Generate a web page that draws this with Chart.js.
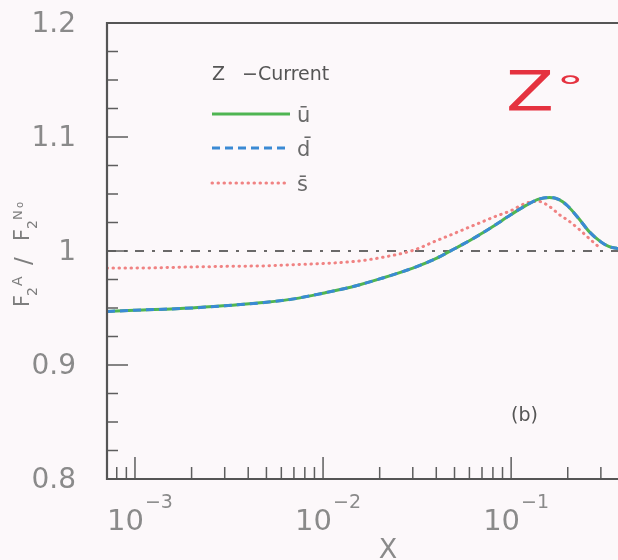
<!DOCTYPE html>
<html>
<head>
<meta charset="utf-8">
<script src="https://cdn.jsdelivr.net/npm/chart.js@4.4.0/dist/chart.umd.min.js"></script>
<style>
  html, body { margin: 0; padding: 0; background: #fcf8fa; overflow: hidden; }
  #wrap { width: 618px; height: 560px; position: relative; }
</style>
</head>
<body>
<div id="wrap"><canvas id="c" width="618" height="560"></canvas></div>
<script>
// Bjorken x sampling points
const xValues = [7.1e-4, 1e-3, 2e-3, 3e-3, 5e-3, 7e-3, 1e-2, 1.5e-2, 2e-2, 3e-2, 4e-2, 5e-2, 6e-2, 7e-2, 8e-2, 0.1, 0.12, 0.14, 0.16, 0.18, 0.2, 0.23, 0.26, 0.3, 0.33, 0.37];

// F2^A / F2^N0 ratios, Z-current, per antiquark flavour
const ubar = [0.947, 0.948, 0.950, 0.952, 0.955, 0.958, 0.963, 0.9695, 0.9755, 0.985, 0.9935, 1.002, 1.009, 1.0155, 1.0215, 1.032, 1.040, 1.0455, 1.047, 1.045, 1.0395, 1.028, 1.017, 1.008, 1.004, 1.002];
const dbar = [0.947, 0.948, 0.950, 0.952, 0.955, 0.958, 0.963, 0.9695, 0.9755, 0.985, 0.9935, 1.002, 1.009, 1.0155, 1.0215, 1.032, 1.040, 1.0455, 1.047, 1.045, 1.0395, 1.028, 1.017, 1.008, 1.004, 1.002];
const sbar = [0.985, 0.985, 0.986, 0.9865, 0.987, 0.988, 0.989, 0.991, 0.994, 1.0005, 1.009, 1.0155, 1.021, 1.0255, 1.0295, 1.0355, 1.042, 1.0435, 1.039, 1.032, 1.027, 1.019, 1.011, 1.002];

const seriesNames = ['ū', 'd̄', 's̄'];
const legendTitle = ['Z', '−Current'];
const panelLabel = '(b)';
const bosonNote = ['Z', '°'];

// axis ticks
const xRange = [7.1e-4, 0.37];
const xMajorTicks = [1e-3, 1e-2, 1e-1];
const xMajorExponents = ['−3', '−2', '−1'];
const xMinorTicks = [8e-4, 9e-4,
  2e-3, 3e-3, 4e-3, 5e-3, 6e-3, 7e-3, 8e-3, 9e-3,
  2e-2, 3e-2, 4e-2, 5e-2, 6e-2, 7e-2, 8e-2, 9e-2,
  0.2, 0.3];
const yRange = [0.8, 1.2];
const yMajorTicks = [0.8, 0.9, 1.0, 1.1, 1.2];
const yTickLabels = ['0.8', '0.9', '1', '1.1', '1.2'];
const yMinorTicks = [0.825, 0.85, 0.875, 0.925, 0.95, 0.975, 1.025, 1.05, 1.075, 1.125, 1.15, 1.175];
const unityLevel = 1.0;

const toPoints = (ys) => ys.map((v, i) => ({ x: xValues[i], y: v }));

const GREEN = '#4fb552';
const BLUE = '#3a8ad4';
const RED = '#f08282';
const INK = '#555555';
const TICKTEXT = '#8a8a8a';
const FONT = '"DejaVu Sans", "Liberation Sans", sans-serif';

const decorations = {
  id: 'decorations',
  afterDraw(chart) {
    const { ctx, chartArea: a, scales: { x, y } } = chart;
    ctx.save();

    // inward tick marks
    ctx.strokeStyle = '#5e5e5e';
    ctx.lineWidth = 1.5;
    ctx.beginPath();
    xMinorTicks.forEach(v => { const p = x.getPixelForValue(v); ctx.moveTo(p, a.bottom); ctx.lineTo(p, a.bottom - 12); });
    xMajorTicks.forEach(v => { const p = x.getPixelForValue(v); ctx.moveTo(p, a.bottom); ctx.lineTo(p, a.bottom - 22); });
    yMinorTicks.forEach(v => { const p = y.getPixelForValue(v); ctx.moveTo(a.left, p); ctx.lineTo(a.left + 11, p); });
    yMajorTicks.forEach(v => { const p = y.getPixelForValue(v); ctx.moveTo(a.left, p); ctx.lineTo(a.left + 21, p); });
    ctx.stroke();

    // frame (open to the right)
    ctx.strokeStyle = INK;
    ctx.lineWidth = 2.2;
    ctx.beginPath();
    ctx.moveTo(a.right + 5, a.top);
    ctx.lineTo(a.left, a.top);
    ctx.lineTo(a.left, a.bottom);
    ctx.lineTo(a.right + 5, a.bottom);
    ctx.stroke();

    // y tick labels
    ctx.fillStyle = TICKTEXT;
    ctx.font = '28px ' + FONT;
    ctx.textAlign = 'right';
    ctx.textBaseline = 'middle';
    yMajorTicks.forEach((v, i) => {
      ctx.fillText(yTickLabels[i], 76, y.getPixelForValue(v) + 2);
    });

    // x tick labels: 10 with exponent
    ctx.textBaseline = 'alphabetic';
    ctx.textAlign = 'left';
    xMajorTicks.forEach((v, i) => {
      const p = x.getPixelForValue(v);
      ctx.font = '29px ' + FONT;
      const w = ctx.measureText('10').width;
      const left = p - 28;
      ctx.fillText('10', left, 530);
      ctx.font = '19px ' + FONT;
      ctx.fillText(xMajorExponents[i], left + w + 1, 508);
    });

    // x axis title
    ctx.font = '27px ' + FONT;
    ctx.textAlign = 'center';
    ctx.fillText('X', 388, 558);

    // y axis title, rotated
    ctx.save();
    ctx.translate(29, 307);
    ctx.rotate(-Math.PI / 2);
    ctx.textAlign = 'left';
    ctx.fillStyle = '#7e7e7e';
    ctx.font = '21px ' + FONT;
    ctx.fillText('F', 0, 0);
    ctx.font = '14px ' + FONT;
    ctx.fillText('2', 11, 8);
    ctx.font = '14px ' + FONT;
    ctx.fillText('A', 21, -7);
    ctx.font = '23px ' + FONT;
    ctx.fillText('/', 42, 2);
    ctx.font = '21px ' + FONT;
    ctx.fillText('F', 66, 0);
    ctx.font = '14px ' + FONT;
    ctx.fillText('2', 78, 8);
    ctx.font = '13px ' + FONT;
    ctx.fillText('N', 87, -7);
    ctx.font = '10px ' + FONT;
    ctx.fillText('o', 99, -6);
    ctx.restore();

    // legend
    ctx.fillStyle = INK;
    ctx.textAlign = 'left';
    ctx.font = '19px ' + FONT;
    ctx.fillText(legendTitle[0], 212, 80);
    ctx.fillText(legendTitle[1], 242, 80);
    const rows = [114, 148, 183];
    [0, 1, 2].forEach(i => {
      const ds = chart.data.datasets[i];
      const yy = rows[i];
      ctx.save();
      ctx.strokeStyle = ds.borderColor;
      ctx.lineWidth = ds.borderWidth;
      ctx.setLineDash(ds.borderDash || []);
      ctx.lineCap = ds.borderCapStyle || 'butt';
      ctx.beginPath();
      ctx.moveTo(212, yy);
      ctx.lineTo(290, yy);
      ctx.stroke();
      ctx.restore();
      ctx.fillStyle = '#6a6a6a';
      ctx.font = '21px ' + FONT;
      ctx.fillText(ds.label, 297, yy + 8);
    });

    // panel label
    ctx.fillStyle = INK;
    ctx.font = '19px ' + FONT;
    ctx.fillText(panelLabel, 511, 421);

    // handwritten boson note
    ctx.fillStyle = '#e5323f';
    ctx.save();
    ctx.translate(506, 110);
    ctx.scale(1.25, 1);
    ctx.font = '56px ' + FONT;
    ctx.fillText(bosonNote[0], 0, 0);
    ctx.restore();
    ctx.save();
    ctx.translate(556, 96);
    ctx.scale(1.3, 0.65);
    ctx.font = '44px ' + FONT;
    ctx.fillText(bosonNote[1], 0, 0);
    ctx.restore();

    ctx.restore();
  }
};

new Chart(document.getElementById('c'), {
  type: 'line',
  data: {
    datasets: [
      { label: seriesNames[0], data: toPoints(ubar), borderColor: GREEN, borderWidth: 3, order: 2, borderCapStyle: 'butt' },
      { label: seriesNames[1], data: toPoints(dbar), borderColor: BLUE, borderWidth: 3, borderDash: [8, 5], order: 1, borderCapStyle: 'butt' },
      { label: seriesNames[2], data: toPoints(sbar), borderColor: RED, borderWidth: 3, borderDash: [0.5, 5.5], borderCapStyle: 'round', order: 3 },
      { label: 'unity', data: [{ x: xRange[0], y: unityLevel }, { x: xRange[1], y: unityLevel }], borderColor: '#3a3a3a', borderWidth: 1.6, borderDash: [9, 8, 3, 8], order: 4 }
    ]
  },
  options: {
    responsive: false,
    animation: false,
    devicePixelRatio: 1,
    layout: { padding: { top: 23, right: 0, left: 0, bottom: 0 } },
    elements: { point: { radius: 0 }, line: { cubicInterpolationMode: 'monotone' } },
    plugins: { legend: { display: false }, tooltip: { enabled: false } },
    scales: {
      x: {
        type: 'logarithmic',
        min: xRange[0],
        max: xRange[1],
        grid: { display: false, drawTicks: false },
        border: { display: false },
        ticks: { display: false },
        afterFit: (s) => { s.height = 81; }
      },
      y: {
        type: 'linear',
        min: yRange[0],
        max: yRange[1],
        grid: { display: false, drawTicks: false },
        border: { display: false },
        afterBuildTicks: (s) => { s.ticks = yMajorTicks.map(v => ({ value: v })); },
        ticks: { display: false },
        afterFit: (s) => { s.width = 107; }
      }
    }
  },
  plugins: [decorations]
});
</script>
</body>
</html>
